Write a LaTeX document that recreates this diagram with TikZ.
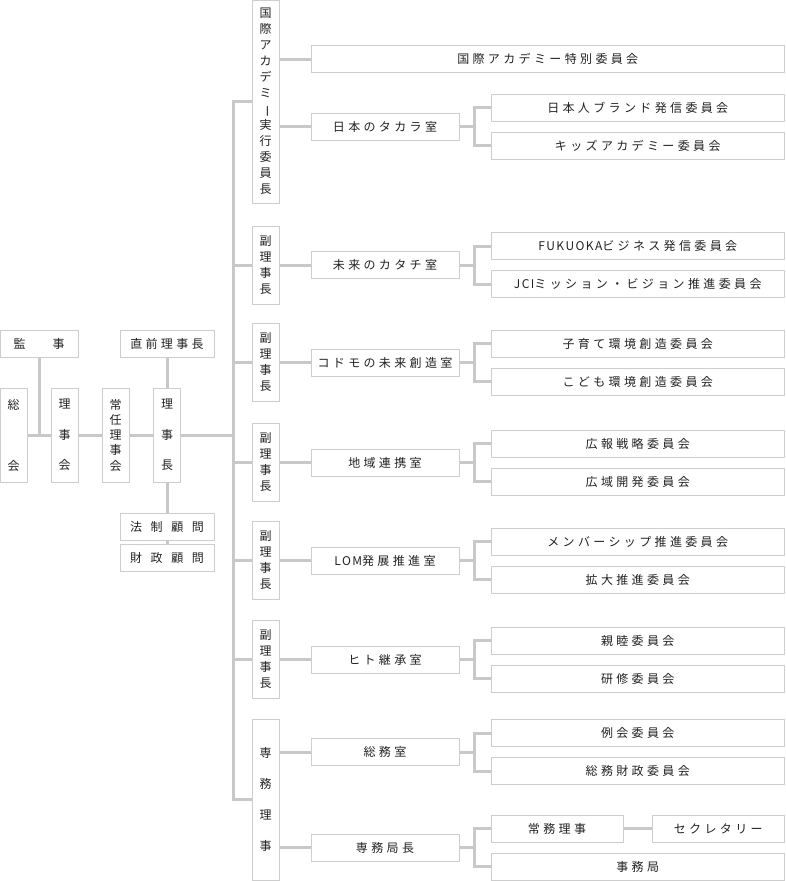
\documentclass[tikz,border=0pt]{standalone}
\usepackage{fontspec}
\usepackage{graphicx}
\usepackage{xcolor}
\newfontfamily\jpfont[LetterSpace=28]{Noto Sans CJK JP}
\newfontfamily\jpwide[LetterSpace=72]{Noto Sans CJK JP}
\newfontfamily\jpvert{Noto Sans CJK JP}
\newfontfamily\jplatin[LetterSpace=12]{Noto Sans CJK JP}
\definecolor{linegray}{HTML}{C8C8C8}
\definecolor{boxgray}{HTML}{CDCDCD}
\definecolor{textgray}{HTML}{222222}
\newcommand{\vbar}{\rotatebox[origin=c]{-90}{ー}}

\begin{document}
\begin{tikzpicture}[x=1pt,y=-1pt,
box/.style={rectangle,draw=boxgray,line width=1pt,fill=white,inner sep=0pt,text=textgray,minimum height=27},
hbox/.style={box,font=\jpfont\fontsize{12}{16}\selectfont},
wbox/.style={box,font=\jpwide\fontsize{12}{16}\selectfont},
vbox/.style={box,minimum width=27,align=center,font=\jpvert\fontsize{12}{16}\selectfont},
conn/.style={draw=linegray,line width=3pt}]
\useasboundingbox (0,0) rectangle (785,881);

\draw (39,343.5) node[hbox,minimum width=78](kansa) {監\hspace{27pt}事};
\draw (167,343.5) node[hbox,minimum width=94](zenrijicho) {直前理事長};
\draw (13.5,435) node[vbox,minimum height=94](sokai) {総\\[45pt]会};
\draw (64.5,435) node[vbox,minimum height=94](rijikai) {理\\[14.5pt]事\\[14.5pt]会};
\draw (115.5,435) node[vbox,minimum height=94,font=\jpvert\fontsize{12}{15.25}\selectfont](jonin) {常\\任\\理\\事\\会};
\draw (167,435) node[vbox,minimum height=94](rijicho) {理\\[14.5pt]事\\[14.5pt]長};
\draw (167,526.5) node[wbox,minimum width=94](hosei) {法制顧問};
\draw (167,557.5) node[wbox,minimum width=94](zaisei) {財政顧問};

\draw (265.5,101.5) node[vbox,minimum height=203](kokusai) {国\\際\\ア\\カ\\デ\\ミ\\\vbar\\実\\行\\委\\員\\長};
\draw (265.5,265) node[vbox,minimum height=78](fuku1) {副\\理\\事\\長};
\draw (265.5,362.5) node[vbox,minimum height=78](fuku2) {副\\理\\事\\長};
\draw (265.5,462.5) node[vbox,minimum height=78](fuku3) {副\\理\\事\\長};
\draw (265.5,560.5) node[vbox,minimum height=78](fuku4) {副\\理\\事\\長};
\draw (265.5,659.5) node[vbox,minimum height=78](fuku5) {副\\理\\事\\長};
\draw (265.5,799.5) node[vbox,minimum height=161](senmu) {専\\[15.3pt]務\\[15.3pt]理\\[15.3pt]事};

\draw (547.75,59) node[hbox,minimum width=473.5](tokubetsu) {国際アカデミー特別委員会};
\draw (385,126.5) node[hbox,minimum width=148](takara) {日本のタカラ室};
\draw (385,265) node[hbox,minimum width=148](katachi) {未来のカタチ室};
\draw (385,362.5) node[hbox,minimum width=148](kodomo) {コドモの未来創造室};
\draw (385,462.5) node[hbox,minimum width=148](chiiki) {地域連携室};
\draw (385,560.5) node[hbox,minimum width=148](lom) {{\jplatin LOM}発展推進室};
\draw (385,659.5) node[hbox,minimum width=148](hito) {ヒト継承室};
\draw (385,752) node[hbox,minimum width=148](somu) {総務室};
\draw (385,847.5) node[hbox,minimum width=148](kyokucho) {専務局長};

\draw (637.75,107.5) node[hbox,minimum width=293.5](nihonjin) {日本人ブランド発信委員会};
\draw (637.75,145.5) node[hbox,minimum width=293.5](kids) {キッズアカデミー委員会};
\draw (637.75,246) node[hbox,minimum width=293.5](fukuoka) {{\jplatin FUKUOKA}ビジネス発信委員会};
\draw (637.75,284) node[hbox,minimum width=293.5](jci) {{\jplatin JCI}ミッション・ビジョン推進委員会};
\draw (637.75,343.5) node[hbox,minimum width=293.5](kosodate) {子育て環境創造委員会};
\draw (637.75,381.5) node[hbox,minimum width=293.5](kodomokankyo) {こども環境創造委員会};
\draw (637.75,443.5) node[hbox,minimum width=293.5](koho) {広報戦略委員会};
\draw (637.75,481.5) node[hbox,minimum width=293.5](koiki) {広域開発委員会};
\draw (637.75,541.5) node[hbox,minimum width=293.5](member) {メンバーシップ推進委員会};
\draw (637.75,579.5) node[hbox,minimum width=293.5](kakudai) {拡大推進委員会};
\draw (637.75,640.5) node[hbox,minimum width=293.5](shinboku) {親睦委員会};
\draw (637.75,678.5) node[hbox,minimum width=293.5](kenshu) {研修委員会};
\draw (637.75,733) node[hbox,minimum width=293.5](reikai) {例会委員会};
\draw (637.75,771) node[hbox,minimum width=293.5](somuzaisei) {総務財政委員会};
\draw (557,828.5) node[hbox,minimum width=132](jomu) {常務理事};
\draw (718.25,828.5) node[hbox,minimum width=132.5](secretary) {セクレタリー};
\draw (637.75,866.5) node[hbox,minimum width=293.5](jimukyoku) {事務局};

\coordinate (tk) at (233,435);
\draw[conn] (kansa.south) -- (kansa.south |- sokai.east);
\draw[conn] (sokai.east) -- (rijikai.west);
\draw[conn] (rijikai.east) -- (jonin.west);
\draw[conn] (jonin.east) -- (rijicho.west);
\draw[conn] (zenrijicho.south) -- (rijicho.north);
\draw[conn] (rijicho.south) -- (hosei.north);
\draw[conn] (hosei.south) -- (zaisei.north);
\draw[conn] (rijicho.east) -- (tk);
\draw[conn] (kokusai.west) -| (tk) |- (senmu.west);
\draw[conn] (fuku1.west) -- (fuku1.west -| tk);
\draw[conn] (fuku2.west) -- (fuku2.west -| tk);
\draw[conn] (fuku3.west) -- (fuku3.west -| tk);
\draw[conn] (fuku4.west) -- (fuku4.west -| tk);
\draw[conn] (fuku5.west) -- (fuku5.west -| tk);

\draw[conn] (kokusai.east |- tokubetsu) -- (tokubetsu.west);
\draw[conn] (kokusai.east |- takara) -- (takara.west);
\draw[conn] (fuku1.east) -- (katachi.west);
\draw[conn] (fuku2.east) -- (kodomo.west);
\draw[conn] (fuku3.east) -- (chiiki.west);
\draw[conn] (fuku4.east) -- (lom.west);
\draw[conn] (fuku5.east) -- (hito.west);
\draw[conn] (senmu.east |- somu) -- (somu.west);
\draw[conn] (senmu.east |- kyokucho) -- (kyokucho.west);

\draw[conn] (takara.east) -- ++(16,0);
\draw[conn] (nihonjin.west) -- ++(-16,0) |- (kids.west);
\draw[conn] (katachi.east) -- ++(16,0);
\draw[conn] (fukuoka.west) -- ++(-16,0) |- (jci.west);
\draw[conn] (kodomo.east) -- ++(16,0);
\draw[conn] (kosodate.west) -- ++(-16,0) |- (kodomokankyo.west);
\draw[conn] (chiiki.east) -- ++(16,0);
\draw[conn] (koho.west) -- ++(-16,0) |- (koiki.west);
\draw[conn] (lom.east) -- ++(16,0);
\draw[conn] (member.west) -- ++(-16,0) |- (kakudai.west);
\draw[conn] (hito.east) -- ++(16,0);
\draw[conn] (shinboku.west) -- ++(-16,0) |- (kenshu.west);
\draw[conn] (somu.east) -- ++(16,0);
\draw[conn] (reikai.west) -- ++(-16,0) |- (somuzaisei.west);
\draw[conn] (kyokucho.east) -- ++(16,0);
\draw[conn] (jomu.west) -- ++(-16,0) |- (jimukyoku.west);
\draw[conn] (jomu.east) -- (secretary.west);
\end{tikzpicture}
\end{document}
